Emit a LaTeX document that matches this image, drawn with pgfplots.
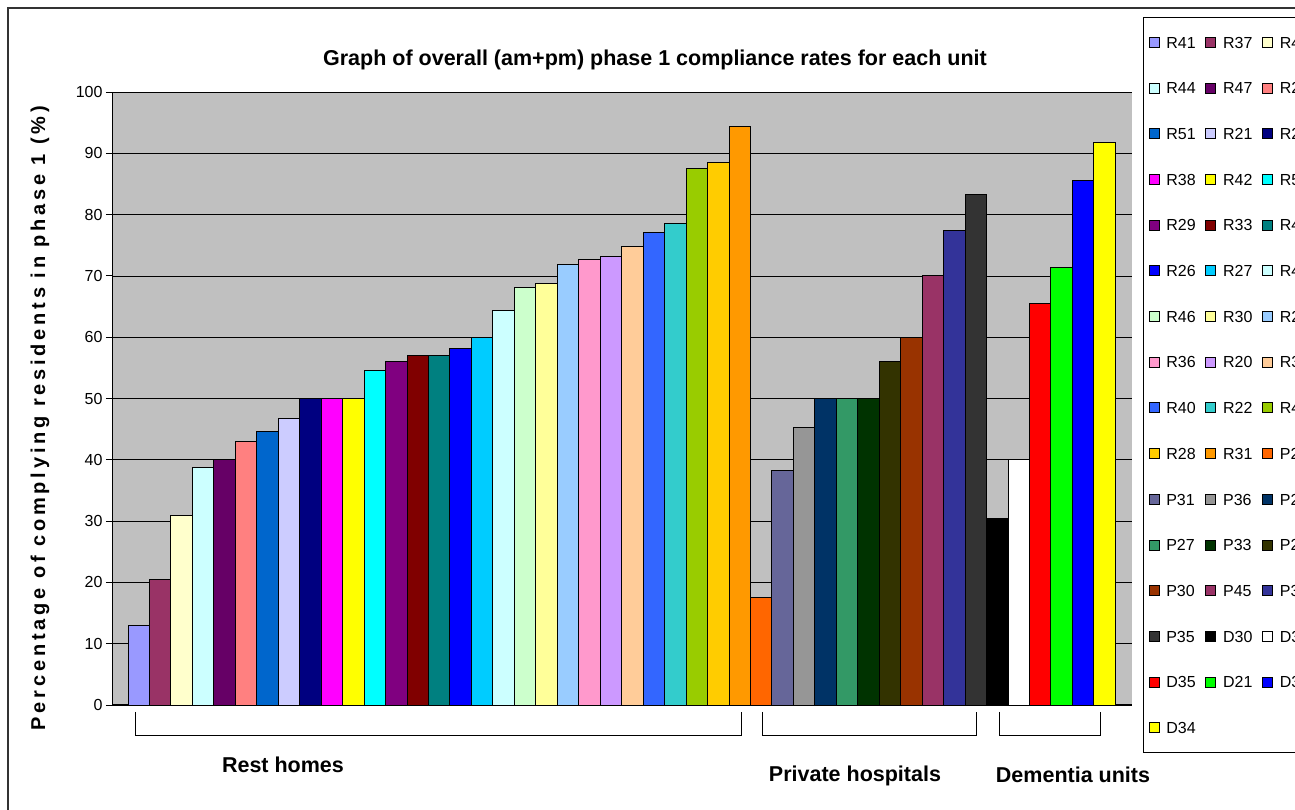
\documentclass[border=0pt]{standalone}
\usepackage{fontspec}
\setmainfont{Liberation Sans}
\usepackage{pgfplots}
\pgfplotsset{compat=1.18}
\definecolor{bg}{HTML}{C0C0C0}
\definecolor{c1}{HTML}{9999FF}
\definecolor{c2}{HTML}{993366}
\definecolor{c3}{HTML}{FFFFCC}
\definecolor{c4}{HTML}{CCFFFF}
\definecolor{c5}{HTML}{660066}
\definecolor{c6}{HTML}{FF8080}
\definecolor{c7}{HTML}{0066CC}
\definecolor{c8}{HTML}{CCCCFF}
\definecolor{c9}{HTML}{000080}
\definecolor{c10}{HTML}{FF00FF}
\definecolor{c11}{HTML}{FFFF00}
\definecolor{c12}{HTML}{00FFFF}
\definecolor{c13}{HTML}{800080}
\definecolor{c14}{HTML}{800000}
\definecolor{c15}{HTML}{008080}
\definecolor{c16}{HTML}{0000FF}
\definecolor{c17}{HTML}{00CCFF}
\definecolor{c18}{HTML}{CCFFFF}
\definecolor{c19}{HTML}{CCFFCC}
\definecolor{c20}{HTML}{FFFF99}
\definecolor{c21}{HTML}{99CCFF}
\definecolor{c22}{HTML}{FF99CC}
\definecolor{c23}{HTML}{CC99FF}
\definecolor{c24}{HTML}{FFCC99}
\definecolor{c25}{HTML}{3366FF}
\definecolor{c26}{HTML}{33CCCC}
\definecolor{c27}{HTML}{99CC00}
\definecolor{c28}{HTML}{FFCC00}
\definecolor{c29}{HTML}{FF9900}
\definecolor{c30}{HTML}{FF6600}
\definecolor{c31}{HTML}{666699}
\definecolor{c32}{HTML}{969696}
\definecolor{c33}{HTML}{003366}
\definecolor{c34}{HTML}{339966}
\definecolor{c35}{HTML}{003300}
\definecolor{c36}{HTML}{333300}
\definecolor{c37}{HTML}{993300}
\definecolor{c38}{HTML}{993366}
\definecolor{c39}{HTML}{333399}
\definecolor{c40}{HTML}{333333}
\definecolor{c41}{HTML}{000000}
\definecolor{c42}{HTML}{FFFFFF}
\definecolor{c43}{HTML}{FF0000}
\definecolor{c44}{HTML}{00FF00}
\definecolor{c45}{HTML}{0000FF}
\definecolor{c46}{HTML}{FFFF00}
\begin{document}
\begin{tikzpicture}[x=1pt,y=1pt]
\begin{axis}[
  name=ax, at={(0,0)}, anchor=south west,
  scale only axis, width=1019pt, height=613pt,
  xmin=-1.2, xmax=46.28, ymin=0, ymax=100,
  axis x line*=bottom, axis y line*=left,
  xtick=\empty,
  ytick={0,10,...,100},
  ymajorgrids, grid style={black, line width=0.7pt},
  axis background/.style={fill=bg},
  axis line style={black, line width=1pt},
  tick align=outside, major tick length=7pt,
  ytick style={black, line width=0.8pt},
  /pgf/number format/assume math mode=true,
  yticklabel style={font=\fontsize{16}{16}\selectfont},
  legend columns=3,
  legend cell align=left,
  legend style={at={(1.0108,1.1223)}, anchor=north west, draw=black, line width=1pt,
    font=\fontsize{16}{16}\selectfont, inner xsep=5pt, inner ysep=19pt,
    row sep=34.2pt, column sep=4pt,
    nodes={inner xsep=3pt, inner ysep=0pt, text width=32pt, text height=11.5pt, text depth=0pt, anchor=west}},
  every axis plot/.append style={ybar, bar width=1, bar shift=0pt, draw=black, line width=0.9pt},
  legend image code/.code={\draw[#1, draw=black, line width=0.8pt] (0pt,-5pt) rectangle (10pt,5pt);},
  legend entries={R41,R37,R4,R44,R47,R2,R51,R21,R2,R38,R42,R5,R29,R33,R4,R26,R27,R4,R46,R30,R2,R36,R20,R3,R40,R22,R4,R28,R31,P2,P31,P36,P2,P27,P33,P2,P30,P45,P3,P35,D30,D3,D35,D21,D3,D34},
]
\addplot[fill=c1] coordinates {(0,12.9)};
\addplot[fill=c2] coordinates {(1,20.5)};
\addplot[fill=c3] coordinates {(2,31.0)};
\addplot[fill=c4] coordinates {(3,38.8)};
\addplot[fill=c5] coordinates {(4,40.0)};
\addplot[fill=c6] coordinates {(5,43.0)};
\addplot[fill=c7] coordinates {(6,44.7)};
\addplot[fill=c8] coordinates {(7,46.7)};
\addplot[fill=c9] coordinates {(8,50.0)};
\addplot[fill=c10] coordinates {(9,50.0)};
\addplot[fill=c11] coordinates {(10,50.0)};
\addplot[fill=c12] coordinates {(11,54.6)};
\addplot[fill=c13] coordinates {(12,56.1)};
\addplot[fill=c14] coordinates {(13,57.0)};
\addplot[fill=c15] coordinates {(14,57.0)};
\addplot[fill=c16] coordinates {(15,58.2)};
\addplot[fill=c17] coordinates {(16,60.0)};
\addplot[fill=c18] coordinates {(17,64.3)};
\addplot[fill=c19] coordinates {(18,68.1)};
\addplot[fill=c20] coordinates {(19,68.7)};
\addplot[fill=c21] coordinates {(20,71.9)};
\addplot[fill=c22] coordinates {(21,72.7)};
\addplot[fill=c23] coordinates {(22,73.1)};
\addplot[fill=c24] coordinates {(23,74.8)};
\addplot[fill=c25] coordinates {(24,77.1)};
\addplot[fill=c26] coordinates {(25,78.6)};
\addplot[fill=c27] coordinates {(26,87.5)};
\addplot[fill=c28] coordinates {(27,88.5)};
\addplot[fill=c29] coordinates {(28,94.3)};
\addplot[fill=c30] coordinates {(29,17.5)};
\addplot[fill=c31] coordinates {(30,38.2)};
\addplot[fill=c32] coordinates {(31,45.3)};
\addplot[fill=c33] coordinates {(32,50.0)};
\addplot[fill=c34] coordinates {(33,50.0)};
\addplot[fill=c35] coordinates {(34,50.0)};
\addplot[fill=c36] coordinates {(35,56.1)};
\addplot[fill=c37] coordinates {(36,60.0)};
\addplot[fill=c38] coordinates {(37,70.1)};
\addplot[fill=c39] coordinates {(38,77.4)};
\addplot[fill=c40] coordinates {(39,83.3)};
\addplot[fill=c41] coordinates {(40,30.4)};
\addplot[fill=c42] coordinates {(41,40.0)};
\addplot[fill=c43] coordinates {(42,65.5)};
\addplot[fill=c44] coordinates {(43,71.3)};
\addplot[fill=c45] coordinates {(44,85.6)};
\addplot[fill=c46] coordinates {(45,91.7)};
\end{axis}
\node[font=\bfseries\fontsize{21.5}{24}\selectfont] at (542,645) {Graph of overall (am+pm) phase 1 compliance rates for each unit};
\node[rotate=90, font=\bfseries\fontsize{20}{22}\selectfont\addfontfeature{LetterSpace=19}] at (-73,287) {Percentage of complying residents in phase 1 (\%)};
\draw[black, line width=1pt] (22,-7) -- (22,-31) -- (628,-31) -- (628,-7);
\draw[black, line width=1pt] (649,-7) -- (649,-31) -- (863,-31) -- (863,-7);
\draw[black, line width=1pt] (886,-7) -- (886,-31) -- (987,-31) -- (987,-7);
\node[font=\bfseries\fontsize{21.5}{24}\selectfont] at (170,-60) {Rest homes};
\node[font=\bfseries\fontsize{21.5}{24}\selectfont] at (742,-71) {Private hospitals};
\node[font=\bfseries\fontsize{21.5}{24}\selectfont] at (960,-70) {Dementia units};
\draw[black!80, line width=1.2pt] (-105,-130) -- (-105,697) -- (1250,697);
\pgfresetboundingbox
\useasboundingbox (-113,-105) rectangle (1182,705);
\end{tikzpicture}
\end{document}
